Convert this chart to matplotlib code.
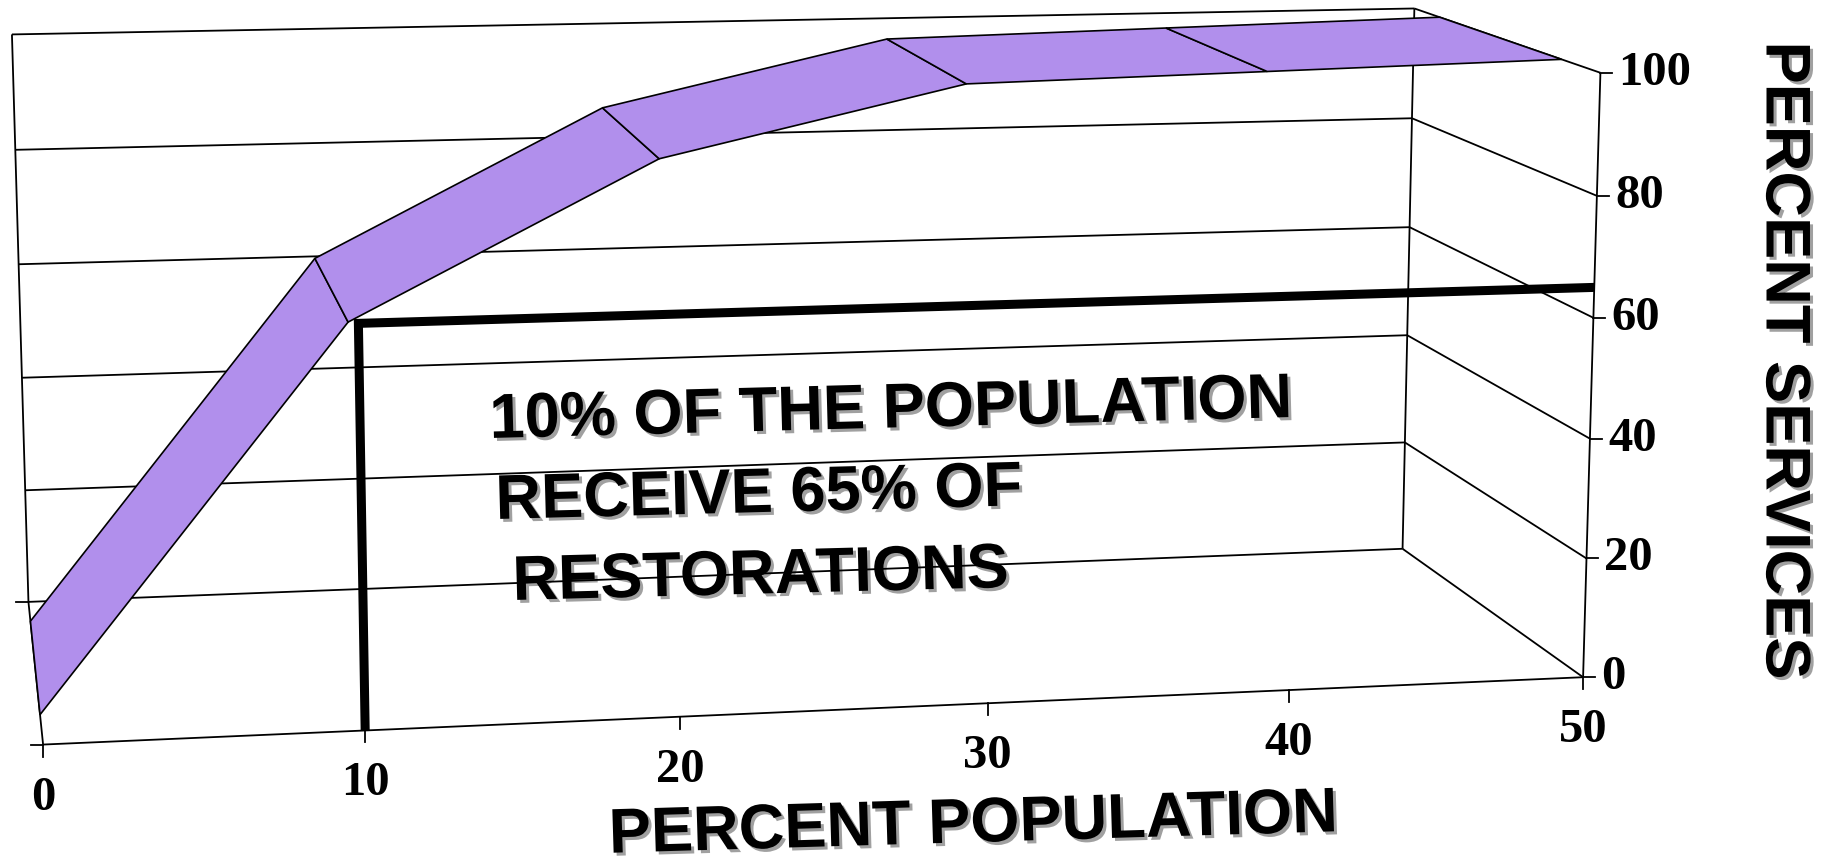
import numpy as np
import matplotlib
matplotlib.use('Agg')
import matplotlib.pyplot as plt
import matplotlib.patheffects as pe
from matplotlib.patches import Polygon

# cumulative share of restoration services against share of population
pop_pct = [0, 10, 20, 30, 40, 50]
services_pct = [0, 62, 87, 98, 99, 100]

x_ticks = [0, 10, 20, 30, 40, 50]
y_ticks = [0, 20, 40, 60, 80, 100]

note_pop = 10
note_services = 65
note_lines = ['10% OF THE POPULATION', 'RECEIVE 65% OF', 'RESTORATIONS']

x_title = 'PERCENT POPULATION'
y_title = 'PERCENT SERVICES'

RIBBON = '#B18FEC'
W, H = 1829, 865

# box corners (population, services, depth) and where they sit on the canvas
box_world = [(0, 0, 0), (50, 0, 0), (50, 100, 0),
             (0, 0, 1), (0, 100, 1), (50, 0, 1), (50, 100, 1)]
box_px = [(43.3, 744.0), (1583.0, 678.3), (1600.3, 72.2),
          (28.3, 602.5), (11.9, 34.3), (1402.6, 547.7), (1414.5, 9.1)]


def fit_camera(world, px):
    rows = []
    for (X, Y, Z), (u, v) in zip(world, px):
        p = [X / 50, Y / 100, Z, 1]
        u, v = u / 1000, v / 1000
        rows.append(p + [0, 0, 0, 0] + [-u * c for c in p])
        rows.append([0, 0, 0, 0] + p + [-v * c for c in p])
    _, _, vt = np.linalg.svd(np.array(rows, float))
    return vt[-1].reshape(3, 4)


CAM = fit_camera(box_world, box_px)


def proj(x, y, z):
    x, y, z = np.broadcast_arrays(np.asarray(x, float), np.asarray(y, float),
                                  np.asarray(z, float))
    h = CAM @ np.vstack([x.ravel() / 50, y.ravel() / 100, z.ravel(),
                         np.ones(x.size)])
    return h[0] / h[2] * 1000, h[1] / h[2] * 1000


fig = plt.figure(figsize=(W / 100, H / 100), dpi=100)
ax = fig.add_axes([0, 0, 1, 1])
ax.set_xlim(0, W)
ax.set_ylim(H, 0)
ax.axis('off')

LW = 1.3


def line3d(xs, ys, zs, **kw):
    u, v = proj(xs, ys, zs)
    kw.setdefault('lw', LW)
    kw.setdefault('zorder', 2)
    ax.plot(u, v, color='black', solid_capstyle='butt', **kw)


# back wall and its gridlines
for yt in y_ticks:
    line3d([0, 50], yt, 1)
line3d(0, [0, 100], 1)
line3d(50, [0, 100], 1)

# right side wall
for yt in y_ticks:
    line3d(50, yt, [1, 0])

# floor edges
line3d([0, 50], 0, 0)
line3d(0, 0, [0, 1])

# value axis on the front right edge
line3d(50, [0, 100], 0)

tick_font = dict(family='Liberation Serif', weight='bold', size=35)
for yt in y_ticks:
    u, v = proj(50, yt, 0)
    ax.plot([u[0], u[0] + 12], [v[0], v[0]], color='black', lw=LW)
    ax.text(u[0] + 18, v[0], str(yt), ha='left', va='center', **tick_font)

for xt in x_ticks:
    u, v = proj(xt, 0, 0)
    ax.plot([u[0], u[0]], [v[0], v[0] + 12], color='black', lw=LW)
    ax.text(u[0], v[0] + 53, str(xt), ha='center', va='center', **tick_font)

# depth axis ticks
for zt in [0, 1]:
    u, v = proj(0, 0, zt)
    ax.plot([u[0] - 12, u[0]], [v[0], v[0]], color='black', lw=LW)

# the ribbon
zf, zb = 0.19, 0.85
fu, fv = proj(pop_pct, services_pct, zf)
bu, bv = proj(pop_pct, services_pct, zb)
for i in range(len(pop_pct) - 1):
    quad = [(fu[i], fv[i]), (fu[i + 1], fv[i + 1]),
            (bu[i + 1], bv[i + 1]), (bu[i], bv[i])]
    ax.add_patch(Polygon(quad, closed=True, fc=RIBBON, ec='black',
                         lw=1.2, joinstyle='miter', zorder=3))

# marker line at 10% / 65%
au, av = proj([note_pop, note_pop, 50], [0, note_services, note_services], 0)
ax.plot(au, av, color='black', lw=6.5, zorder=5, solid_joinstyle='miter',
        solid_capstyle='butt')

shadow = [pe.withSimplePatchShadow(offset=(2.2, -2.2),
                                   shadow_rgbFace='#a0a0a0', alpha=1.0)]
title_font = dict(family='Liberation Sans', weight='bold', size=45.5)

note_pos = [(490, 438), (496, 519), (513, 600)]
for txt, (x0, y0) in zip(note_lines, note_pos):
    ax.text(x0, y0, txt, ha='left', va='baseline', rotation=1.5,
            rotation_mode='anchor', path_effects=shadow, zorder=1,
            **title_font)

ax.text(974, 842, x_title, ha='center', va='baseline', rotation=1.7,
        rotation_mode='anchor', path_effects=shadow, **title_font)
ax.text(1783, 361, y_title, ha='center', va='center', rotation=-90,
        path_effects=shadow, **title_font)

fig.savefig('out.png', dpi=100, facecolor='white')
